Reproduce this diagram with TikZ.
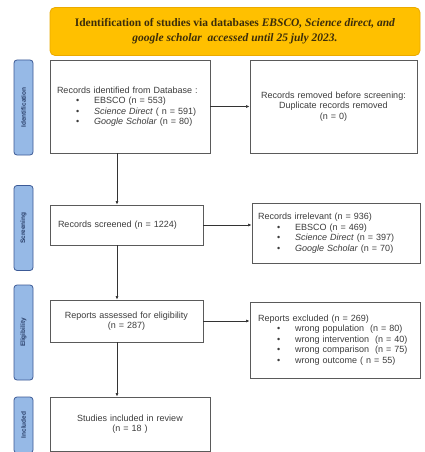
\documentclass[tikz,border=0pt]{standalone}
\usepackage{fontspec}
\setmainfont{Liberation Sans}
\newfontfamily\hdrfont{Liberation Serif}
\usetikzlibrary{arrows.meta}
\definecolor{hdrfill}{RGB}{255,192,0}
\definecolor{hdrdraw}{RGB}{235,170,0}
\definecolor{hdrtext}{RGB}{60,45,10}
\definecolor{sidefill}{RGB}{150,185,230}
\definecolor{sidedraw}{RGB}{60,90,150}
\definecolor{boxdraw}{RGB}{90,90,90}
\definecolor{txt}{RGB}{60,60,60}
\newcommand\bitem{\hspace*{19pt}\textbullet\hspace{15pt}}
\tikzset{
  box/.style={draw=boxdraw, line width=0.9pt, fill=white, inner sep=0pt,
    font=\fontsize{9}{10.5}\selectfont, text=txt},
  side/.style={draw=sidedraw, line width=0.8pt, fill=sidefill, rounded corners=3pt,
    minimum width=19, inner sep=0pt},
  sidelabel/.style={rotate=90, font=\fontsize{6.5}{7}\selectfont\bfseries, text=sidedraw!70!black},
  conn/.style={draw=black!80, line width=0.6pt, -{Latex[length=3.5pt,width=3pt]}}
}
\begin{document}
\begin{tikzpicture}[x=1pt,y=-1pt]
\useasboundingbox (0,0) rectangle (424,452);
\fill[white] (0,0) rectangle (424,452);
% header
\node[draw=hdrdraw, line width=0.8pt, fill=hdrfill, rounded corners=5pt,
  minimum width=370, minimum height=48, align=center, text=hdrtext,
  font=\hdrfont\bfseries\fontsize{11.5}{15}\selectfont] (hdr) at (235,31.5)
  {Identification of studies via databases \textit{EBSCO, Science direct, and}\\
   \textit{google scholar\ \ accessed until 25 july 2023.}};
% side bars
\node[side, minimum height=95] (s1) at (23.5,107.5) {};
\node[sidelabel] (s1l) at (s1) {Identification};
\node[side, minimum height=85] (s2) at (23.5,228) {};
\node[sidelabel] (s2l) at (s2) {Screening};
\node[side, minimum height=95] (s3) at (23.5,332.5) {};
\node[sidelabel] (s3l) at (s3) {Eligibility};
\node[side, minimum height=56] (s4) at (23.5,425) {};
\node[sidelabel] (s4l) at (s4) {Included};
% boxes
\node[box, minimum width=160, minimum height=93, text width=146, align=left] (b1) at (130,106.5)
  {Records identified from Database :\\
   \bitem EBSCO (n = 553)\\
   \bitem \textit{Science Direct} ( n = 591)\\
   \bitem \textit{Google Scholar} (n = 80)};
\node[box, minimum width=167, minimum height=93, text width=160, align=center] (b2) at (333.5,106.5)
  {Records removed before screening:\\
   Duplicate records removed\\
   (n = 0)};
\node[box, minimum width=153, minimum height=40, text width=137, align=left] (b3) at (126.5,225)
  {Records screened (n = 1224)};
\node[box, minimum width=168, minimum height=60, text width=156, align=left] (b4) at (336,233)
  {Records irrelevant (n = 936)\\
   \bitem EBSCO (n = 469)\\
   \bitem \textit{Science Direct} (n = 397)\\
   \bitem \textit{Google Scholar} (n = 70)};
\node[box, minimum width=153, minimum height=42, text width=145, align=center] (b5) at (126.5,321)
  {Reports assessed for eligibility\\
   (n = 287)};
\node[box, minimum width=170, minimum height=76, text width=154, align=left] (b6) at (335,340)
  {Reports excluded (n = 269)\\
   \bitem wrong population\ \ (n = 80)\\
   \bitem wrong intervention\ \ (n = 40)\\
   \bitem wrong comparison\ \ (n = 75)\\
   \bitem wrong outcome ( n = 55)};
\node[box, minimum width=160, minimum height=54, text width=150, align=center] (b7) at (130,424)
  {Studies included in review\\
   (n = 18 )};
% connectors
\draw[conn] (b1.south -| 117,0) -- (b3.north -| 117,0);
\draw[conn] (b3.south -| 117,0) -- (b5.north -| 117,0);
\draw[conn] (b5.south -| 117,0) -- (b7.north -| 117,0);
\draw[conn] (b1.east) -- (b2.west);
\draw[conn] (b3.east) -- (b3.east -| b4.west);
\draw[conn] (b5.east) -- (b5.east -| b6.west);
\end{tikzpicture}
\end{document}
